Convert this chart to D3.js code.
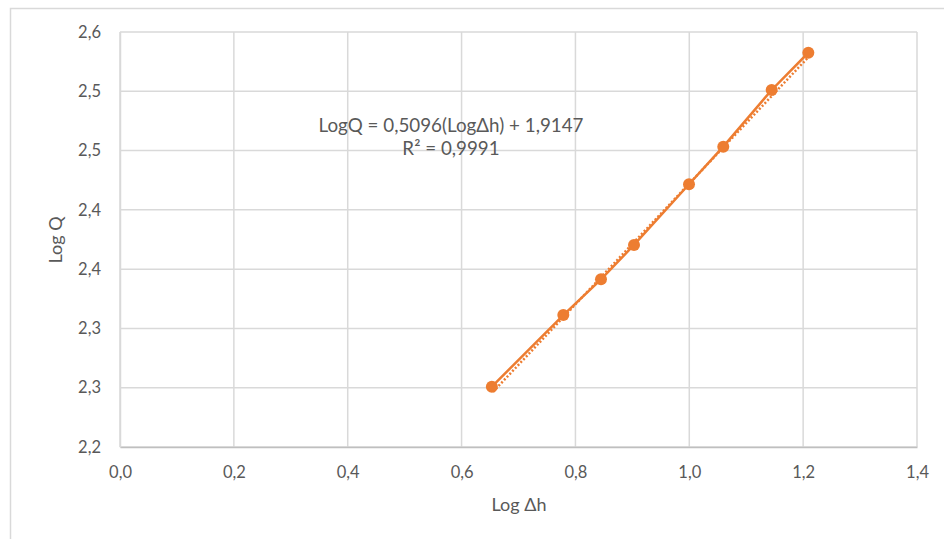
<!DOCTYPE html>
<html>
<head>
<meta charset="utf-8">
<script src="https://cdn.jsdelivr.net/npm/d3@7"></script>
<style>
  html, body { margin: 0; padding: 0; background: #fff; }
  svg { display: block; }
  text { font-family: Lato, "Open Sans", sans-serif; fill: #595959; }
</style>
</head>
<body>
<svg id="chart" width="944" height="539"></svg>
<script>
// Data
const logDh = [0.6532, 0.7787, 0.8449, 0.9029, 0.9995, 1.0597, 1.1447, 1.2091];
const logQ  = [2.2509, 2.3113, 2.3414, 2.3704, 2.4216, 2.4533, 2.5011, 2.5325];
const xTicks = [0, 0.2, 0.4, 0.6, 0.8, 1.0, 1.2, 1.4];
const yTicks = [2.2, 2.25, 2.3, 2.35, 2.4, 2.45, 2.5, 2.55];
const trendSlope = [0.5096];
const trendIntercept = [1.9147];
const eqLines = ["LogQ = 0,5096(LogΔh) + 1,9147", "R² = 0,9991"];

const svg = d3.select("#chart");
const W = 944, H = 539;
const margin = {left: 120, right: 944 - 917, top: 32, bottom: 539 - 447};
const FONT = "Lato, 'Open Sans', sans-serif";

// outer chart frame
svg.append("rect")
  .attr("x", 10.5).attr("y", 8.5)
  .attr("width", W + 20).attr("height", H + 20)
  .attr("fill", "none").attr("stroke", "#d9d9d9").attr("stroke-width", 1.5);

const x = d3.scaleLinear().domain([0, 1.4]).range([margin.left, W - margin.right]);
const y = d3.scaleLinear().domain([2.2, 2.55]).range([H - margin.bottom, margin.top]);

const fmt = v => d3.format(".1f")(Math.round(v * 10 + 1e-9) / 10).replace(".", ",");

// gridlines
const g = svg.append("g");
g.selectAll("line.h").data(yTicks).join("line")
  .attr("x1", x(0)).attr("x2", x(1.4))
  .attr("y1", d => y(d)).attr("y2", d => y(d))
  .attr("stroke", "#d9d9d9").attr("stroke-width", 1.5);
g.selectAll("line.v").data(xTicks).join("line")
  .attr("y1", y(2.2)).attr("y2", y(2.55))
  .attr("x1", d => x(d)).attr("x2", d => x(d))
  .attr("stroke", "#d9d9d9").attr("stroke-width", 1.5);

// axes (labels only)
const xAxis = svg.append("g")
  .attr("transform", `translate(0,${y(2.2)})`)
  .call(d3.axisBottom(x).tickValues(xTicks).tickSize(0).tickPadding(19).tickFormat(fmt));
xAxis.select(".domain").attr("stroke", "#bfbfbf").attr("stroke-width", 1.5);
xAxis.selectAll("text").attr("font-size", 16.5).attr("fill", "#595959")
  .attr("font-family", FONT);

const yAxis = svg.append("g")
  .attr("transform", `translate(${x(0)},0)`)
  .call(d3.axisLeft(y).tickValues(yTicks).tickSize(0).tickPadding(19).tickFormat(fmt));
yAxis.select(".domain").attr("stroke", "#d9d9d9").attr("stroke-width", 1.5);
yAxis.selectAll("text").attr("font-size", 16.5).attr("fill", "#595959")
  .attr("font-family", FONT);

// axis titles
svg.append("text").attr("x", 519).attr("y", 511).attr("text-anchor", "middle")
  .attr("font-size", 18).text("Log Δh");
svg.append("text").attr("transform", "translate(62,240) rotate(-90)")
  .attr("text-anchor", "middle").attr("font-size", 18).text("Log Q");

const orange = "#ED7D31";

// trendline (dotted)
const tx = d3.extent(logDh);
svg.append("line")
  .attr("x1", x(tx[0])).attr("y1", y(trendSlope[0] * tx[0] + trendIntercept[0]))
  .attr("x2", x(tx[1])).attr("y2", y(trendSlope[0] * tx[1] + trendIntercept[0]))
  .attr("stroke", orange).attr("stroke-width", 2.5)
  .attr("stroke-dasharray", "2 2")
  .attr("transform", "translate(1.2,1.2)");

// series line
const pts = logDh.map((d, i) => [d, logQ[i]]);
svg.append("path").datum(pts)
  .attr("d", d3.line().x(d => x(d[0])).y(d => y(d[1])))
  .attr("fill", "none").attr("stroke", orange).attr("stroke-width", 2.5);

svg.selectAll("circle.pt").data(pts).join("circle")
  .attr("cx", d => x(d[0])).attr("cy", d => y(d[1])).attr("r", 6)
  .attr("fill", orange);

// equation label
svg.append("text").attr("x", 451).attr("y", 132).attr("text-anchor", "middle")
  .attr("font-size", 18.8).text(eqLines[0]);
svg.append("text").attr("x", 451).attr("y", 155).attr("text-anchor", "middle")
  .attr("font-size", 18.8).text(eqLines[1]);
</script>
</body>
</html>
